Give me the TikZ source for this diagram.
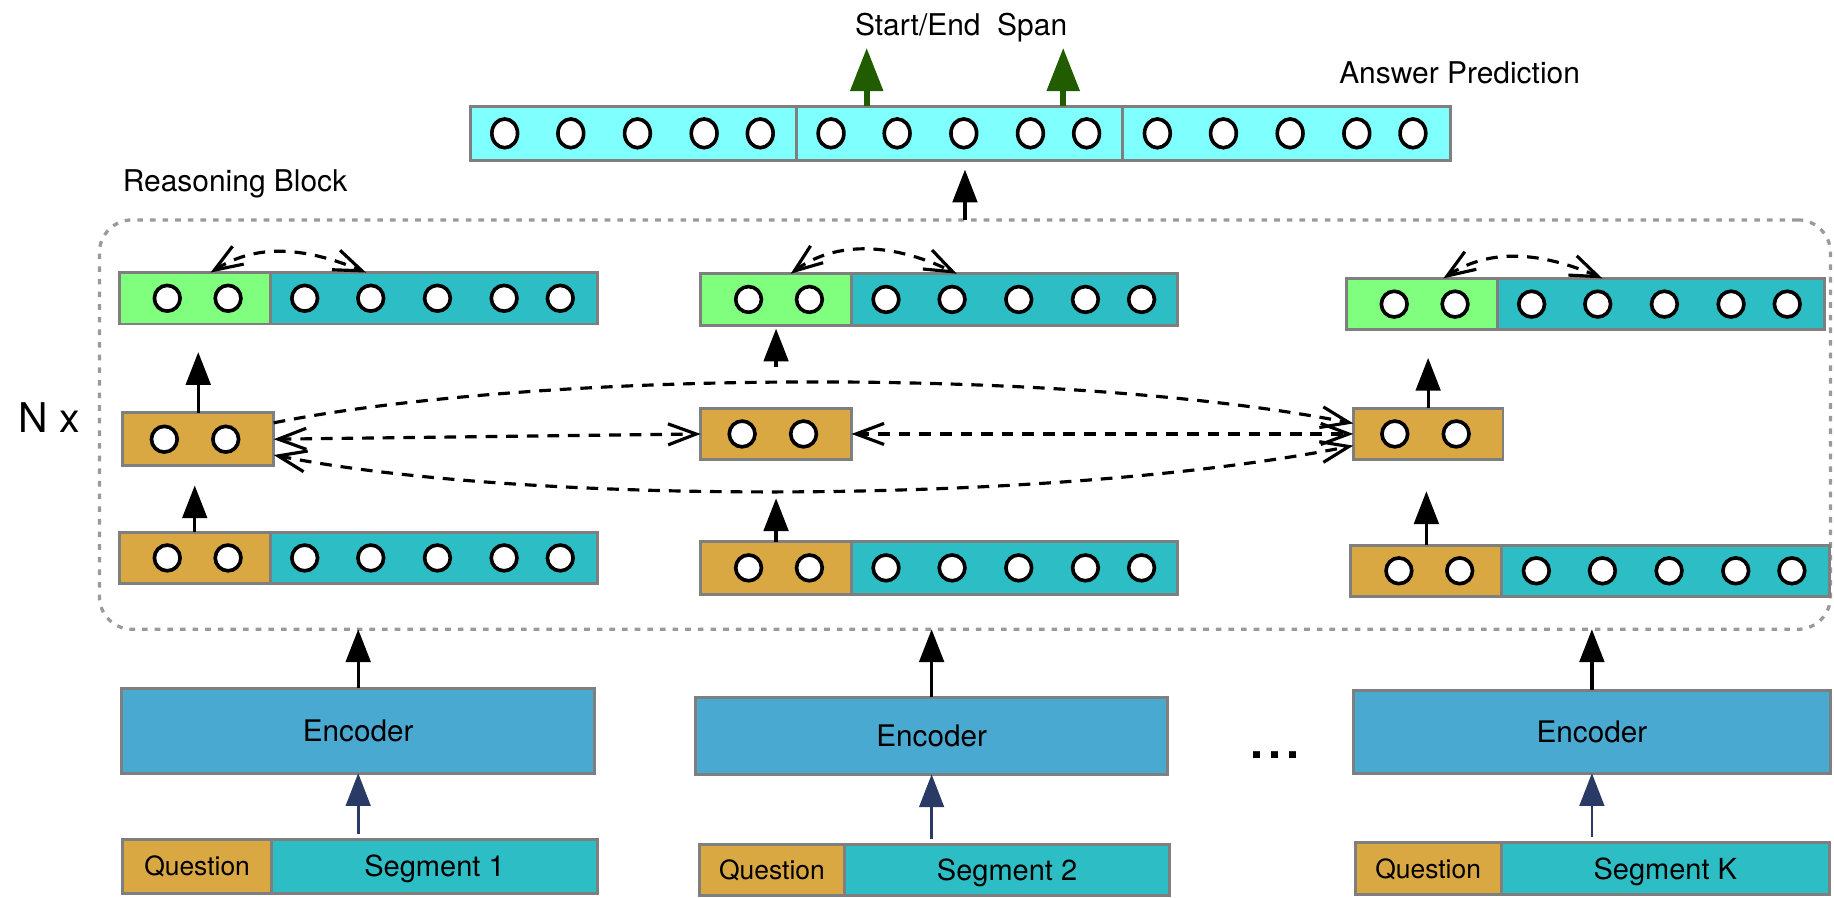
\documentclass[tikz,border=0pt]{standalone}
\usepackage{fontspec}
\setmainfont{TeX Gyre Heros}
\usetikzlibrary{arrows.meta,calc,shapes.geometric}
\definecolor{cyanA}{HTML}{80FFFF}
\definecolor{greenA}{HTML}{80FF7F}
\definecolor{tealA}{HTML}{2DBDC4}
\definecolor{goldA}{HTML}{D9A843}
\definecolor{encA}{HTML}{4AA9D1}
\definecolor{edgeA}{HTML}{7F7F7F}
\definecolor{dkgreen}{HTML}{215C00}
\definecolor{navyA}{HTML}{2A3A66}
\definecolor{dotA}{HTML}{9A9A9A}
% box: [opts]{name}{x1}{y1}{x2}{y2}{fill}{text}
\newcommand{\bx}[8][]{\node[boxst,fill=#7,minimum width={(#5-#3)*0.5pt},minimum height={(#6-#4)*0.5pt},anchor=north west,#1] (#2) at (#3,#4) {#8};}
\newcommand{\fiverow}[2]{\foreach \o [count=\i] in {29.5,86,143,200,248} {\node[dotst] (#1\i) at ($(#2.west)+(\o,0)$) {};}}
\newcommand{\tworow}[3]{\foreach \o [count=\i] in {#3} {\node[dotst] (#1\i) at ($(#2.west)+(\o,0)$) {};}}
\newcommand{\ansrow}[2]{\foreach \o [count=\i] in {29.5,86,143,200,248} {\node[ovst] (#1\i) at ($(#2.west)+(\o,0)$) {};}}
\begin{document}
\begin{tikzpicture}[x=0.5pt,y=-0.5pt,
  boxst/.style={draw=edgeA,line width=1.25pt,rectangle,inner sep=0pt,outer sep=0pt},
  dotst/.style={circle,draw=black,fill=white,line width=1.55pt,minimum size=11pt,inner sep=0pt},
  ovst/.style={ellipse,draw=black,fill=white,line width=1.55pt,minimum width=11pt,minimum height=12.3pt,inner sep=0pt},
  rbst/.style={draw=dotA,line width=1.4pt,dash pattern=on 2.4pt off 3pt,rounded corners=14pt,rectangle,inner sep=0pt,outer sep=0pt},
  arr/.style={line width=1.4pt,-{Triangle[length=14pt,width=10.5pt]}},
  narr/.style={arr,draw=navyA,line width=1.2pt},
  garr/.style={draw=dkgreen,line width=2.5pt,-{Triangle[length=18.5pt,width=13.7pt]}},
  dsh/.style={line width=1.35pt,dash pattern=on 5pt off 3.8pt},
  bb/.tip={Straight Barb[length=12pt,width=9pt]},
  dbar/.style={dsh,bb-bb},
  done/.style={dsh,-bb},
  txt/.style={inner sep=0pt,outer sep=0pt},
  enctxt/.style={font=\fontsize{12.7}{14}\selectfont,text height=9.1pt,text depth=0pt},
  segtxt/.style={font=\fontsize{12.4}{14}\selectfont,text height=8.9pt,text depth=0pt},
  qtxt/.style={font=\fontsize{11.3}{13}\selectfont,text height=8.1pt,text depth=0pt}
]
\useasboundingbox (0,0) rectangle (1568,767);

% reasoning block frame
\node[rbst,minimum width={(1565-85)*0.5pt},minimum height={(538-188)*0.5pt},anchor=north west] (rb) at (85,188) {};

% labels
\node[txt,anchor=base west,font=\fontsize{12.8}{14}\selectfont] (lspan) at (731,30) {Start/End\ \ Span};
\node[txt,anchor=base west,font=\fontsize{12.8}{14}\selectfont] (lans) at (1145,71) {Answer Prediction};
\node[txt,anchor=base west,font=\fontsize{12.8}{14}\selectfont] (lrb) at (105,164) {Reasoning Block};
\node[txt,anchor=base west,font=\fontsize{17.5}{19}\selectfont] (lnx) at (16,370) {N x};
\node[txt,font=\fontsize{20}{20}\selectfont\bfseries] (ldots) at (1090,645.5) {.\kern2.1pt.\kern2.1pt.};

% answer prediction bar
\bx{a1}{402}{91}{681}{137}{cyanA}{}
\bx{a2}{681}{91}{960}{137}{cyanA}{}
\bx{a3}{960}{91}{1240}{137}{cyanA}{}
\ansrow{a1c}{a1}
\ansrow{a2c}{a2}
\ansrow{a3c}{a3}

% column 1
\bx{g1}{102}{233}{231}{277}{greenA}{}
\bx{t1}{231}{233}{511}{277}{tealA}{}
\bx{m1}{105}{353}{234}{398}{goldA}{}
\bx{b1}{102}{455}{231}{499}{goldA}{}
\bx{s1}{231}{455}{511}{499}{tealA}{}
\tworow{g1c}{g1}{41,93}
\fiverow{t1c}{t1}
\tworow{m1c}{m1}{35.5,88}
\tworow{b1c}{b1}{41,93}
\fiverow{s1c}{s1}

% column 2
\bx{g2}{599}{234}{728}{278}{greenA}{}
\bx{t2}{728}{234}{1007}{278}{tealA}{}
\bx{m2}{599}{349}{728}{393}{goldA}{}
\bx{b2}{599}{463}{728}{508}{goldA}{}
\bx{s2}{728}{463}{1007}{508}{tealA}{}
\tworow{g2c}{g2}{41,93}
\fiverow{t2c}{t2}
\tworow{m2c}{m2}{35.5,88}
\tworow{b2c}{b2}{41,93}
\fiverow{s2c}{s2}

% column 3
\bx{g3}{1151}{238}{1280}{282}{greenA}{}
\bx{t3}{1280}{238}{1560}{282}{tealA}{}
\bx{m3}{1157}{349}{1285}{393}{goldA}{}
\bx{b3}{1155}{466}{1284}{510}{goldA}{}
\bx{s3}{1284}{466}{1564}{510}{tealA}{}
\tworow{g3c}{g3}{41,93}
\fiverow{t3c}{t3}
\tworow{m3c}{m3}{35.5,88}
\tworow{b3c}{b3}{41,93}
\fiverow{s3c}{s3}

% encoders
\bx[enctxt]{e1}{104}{588.5}{508.5}{661}{encA}{Encoder}
\bx[enctxt]{e2}{595}{596}{998}{662}{encA}{Encoder}
\bx[enctxt]{e3}{1157}{590}{1565}{661}{encA}{Encoder}

% inputs
\bx[qtxt]{q1}{105}{718}{232}{763.5}{goldA}{Question}
\bx[segtxt]{sg1}{232}{718}{511}{763.5}{tealA}{Segment 1}
\bx[qtxt]{q2}{598}{722}{722}{765.5}{goldA}{Question}
\bx[segtxt]{sg2}{722}{722}{1000}{765.5}{tealA}{Segment 2}
\bx[qtxt]{q3}{1158.5}{720.5}{1283.5}{765}{goldA}{Question}
\bx[segtxt]{sg3}{1283.5}{720.5}{1564}{765}{tealA}{Segment K}

% start/end arrows
\coordinate (st1) at (741,41);
\coordinate (st2) at (909,41);
\draw[garr] ($(a2.north west)+(60,0)$) -- (st1);
\draw[garr] ($(a2.north west)+(228,0)$) -- (st2);

% reasoning block -> answer bar
\coordinate (ansin) at (825,145);
\draw[arr] (rb.north) -- (ansin);

% vertical arrows inside the block
\coordinate (u1) at (169.5,301);
\coordinate (v1) at (166.5,415);
\draw[arr] (m1.north) -- (u1);
\draw[arr] (b1.north) -- (v1);
\coordinate (w2) at (663.5,313.5);
\coordinate (v2) at (663.5,426);
\draw[arr] (w2) -- ($(g2.south)+(0,3)$);
\draw[arr] (b2.north) -- (v2);
\coordinate (u3) at (1221,306);
\coordinate (v3) at (1219.5,420);
\draw[arr] (m3.north) -- (u3);
\draw[arr] (b3.north) -- (v3);

% encoder -> block
\draw[arr] (e1.north) -- (e1.north |- rb.south);
\draw[arr] (e2.north) -- (e2.north |- rb.south);
\draw[arr] (e3.north) -- (e3.north |- rb.south);

% input -> encoder
\draw[narr] ($(e1.south |- q1.north)+(0,-5)$) -- (e1.south);
\draw[narr] ($(e2.south |- q2.north)+(0,-5)$) -- (e2.south);
\draw[narr] ($(e3.south |- q3.north)+(0,-5)$) -- (e3.south);

% top-row attention arcs
\coordinate (k1a) at ($(g1.north west)+(78,0)$);
\coordinate (k1b) at ($(t1.north west)+(82,0)$);
\coordinate (k2a) at ($(g2.north west)+(77,0)$);
\coordinate (k2b) at ($(t2.north west)+(90,0)$);
\coordinate (k3a) at ($(g3.north west)+(83,0)$);
\coordinate (k3b) at ($(t3.north west)+(90,0)$);
\draw[dbar] (k1a) .. controls ($(k1a)+(35,-22)$) and ($(k1b)+(-60,-25)$) .. (k1b);
\draw[dbar] (k2a) .. controls ($(k2a)+(35,-26)$) and ($(k2b)+(-60,-29)$) .. (k2b);
\draw[dbar] (k3a) .. controls ($(k3a)+(35,-23)$) and ($(k3b)+(-60,-26)$) .. (k3b);

% middle-row exchanges
\draw[dbar] (m1.east) -- (m2.west);
\draw[dbar] (m2.east) -- (m3.west);
\draw[done] ($(m1.east)+(0,-14)$) .. controls (450,318) and (900,312) .. ($(m3.west)+(0,-9)$);
\draw[dbar] ($(m1.east)+(0,13.5)$) .. controls (450,432) and (900,432) .. ($(m3.west)+(0,10)$);
\end{tikzpicture}
\end{document}
